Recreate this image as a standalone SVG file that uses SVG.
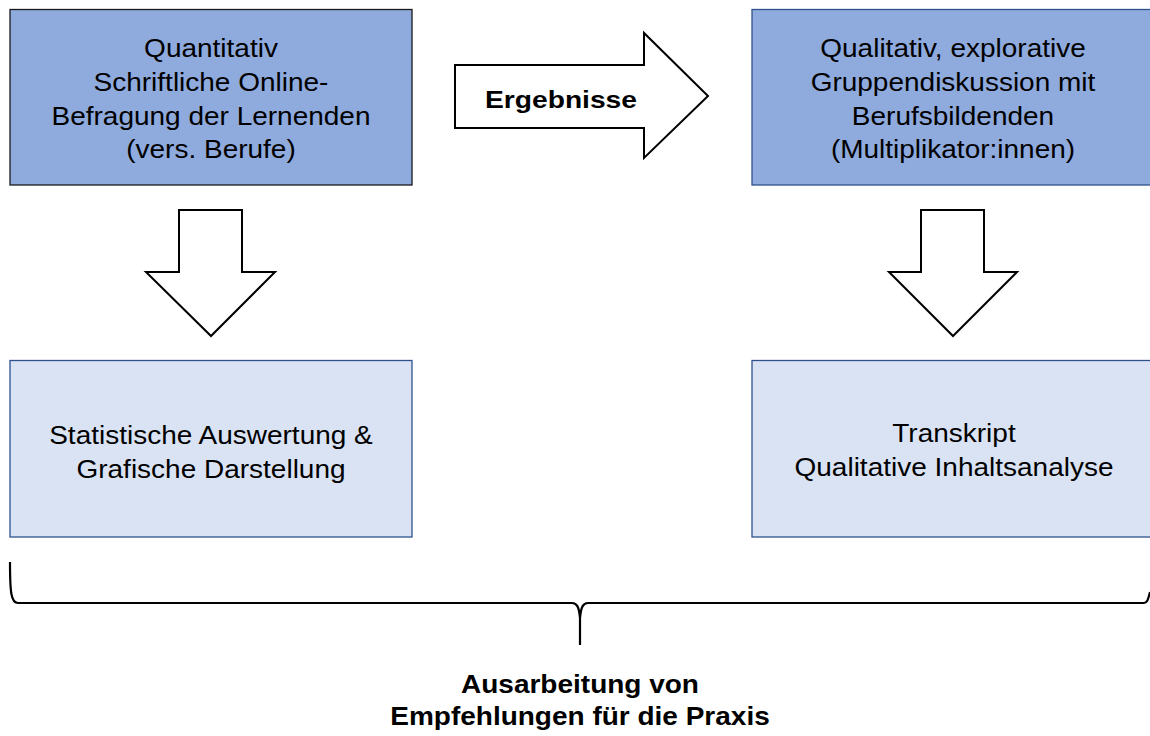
<svg xmlns="http://www.w3.org/2000/svg" width="1150" height="736" viewBox="0 0 1150 736">
<style>
text{font-family:"Liberation Sans",Arial,sans-serif;fill:#000;text-anchor:middle}
.t{font-size:25px}
.b{font-size:25px;font-weight:bold}
.dark{fill:#8FAADC}
.light{fill:#DAE3F3;stroke:#2F528F;stroke-width:1.3}
.arr{fill:#fff;stroke:#000;stroke-width:2;stroke-linejoin:miter}
</style>
<rect width="1150" height="736" fill="#fff"/>
<g id="quantitativ">
<rect class="dark" x="10" y="9.5" width="402" height="175.5" stroke="#1a1a1a" stroke-width="1.3"/>
<g transform="translate(211,0) scale(1.12,1)">
<text class="t" x="0" y="57.5">Quantitativ</text>
<text class="t" x="0" y="91.5">Schriftliche Online-</text>
<text class="t" x="0" y="125">Befragung der Lernenden</text>
<text class="t" x="0" y="158.5">(vers. Berufe)</text>
</g>
</g>
<g id="qualitativ">
<rect class="dark" x="752" y="9.5" width="404" height="175.5" stroke="#2F528F" stroke-width="1.3"/>
<g transform="translate(953,0) scale(1.12,1)">
<text class="t" x="0" y="57.5">Qualitativ, explorative</text>
<text class="t" x="0" y="91.5">Gruppendiskussion mit</text>
<text class="t" x="0" y="125">Berufsbildenden</text>
<text class="t" x="0" y="158.5">(Multiplikator:innen)</text>
</g>
</g>
<g id="statistik">
<rect class="light" x="10" y="360.5" width="402" height="176.5"/>
<g transform="translate(211,0) scale(1.12,1)">
<text class="t" x="0" y="444">Statistische Auswertung &amp;</text>
<text class="t" x="0" y="478">Grafische Darstellung</text>
</g>
</g>
<g id="transkript">
<rect class="light" x="752" y="360.5" width="404" height="176.5"/>
<g transform="translate(954,0) scale(1.12,1)">
<text class="t" x="0" y="442">Transkript</text>
<text class="t" x="0" y="476.5">Qualitative Inhaltsanalyse</text>
</g>
</g>
<g id="ergebnisse">
<path class="arr" d="M455,65 H644 V33 L708,96 L644,158 V128 H455 Z"/>
<g transform="translate(561,0) scale(1.2,1)">
<text class="b" x="0" y="108" style="font-size:23.5px">Ergebnisse</text>
</g>
</g>
<g id="empfehlungen">
<g transform="translate(580,0) scale(1.12,1)">
<text class="b" x="0" y="693">Ausarbeitung von</text>
<text class="b" x="0" y="725">Empfehlungen für die Praxis</text>
</g>
</g>
<g id="connectors">
<path class="arr" d="M179,210 H242 V272 H275 L211,336 L146,272 H179 Z"/>
<path class="arr" d="M921,210 H984 V272 H1017 L953,336 L889,272 H921 Z"/>
<path fill="none" stroke="#000" stroke-width="2.2" d="M10,562 C10,592 11,603 18,603 H572 C577,603 579,607 580,618 V645 M580,618 C581,607 583,603 588,603 H1144 C1147,603 1148,600 1150,592"/>
</g>
</svg>
